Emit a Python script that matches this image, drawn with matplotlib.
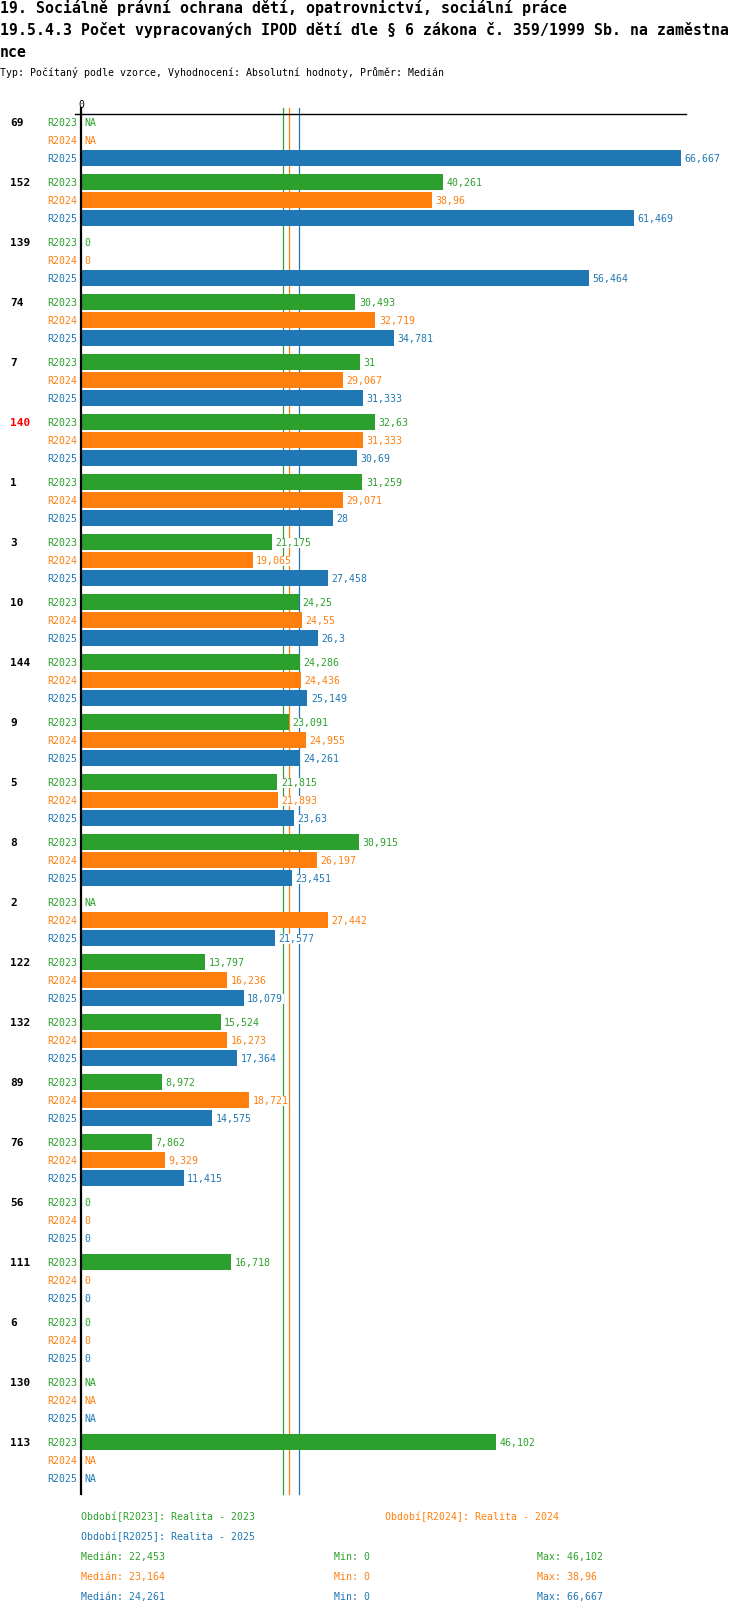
import numpy as np
import matplotlib
matplotlib.use("Agg")
import matplotlib.pyplot as plt

plt.rcParams['font.family'] = ['DejaVu Sans Mono', 'DejaVu Sans']

groups = ['69', '152', '139', '74', '7', '140', '1', '3', '10', '144', '9', '5',
          '8', '2', '122', '132', '89', '76', '56', '111', '6', '130', '113']
nan = np.nan
r2023 = [nan, 40.261, 0, 30.493, 31, 32.63, 31.259, 21.175, 24.25, 24.286, 23.091, 21.815,
         30.915, nan, 13.797, 15.524, 8.972, 7.862, 0, 16.718, 0, nan, 46.102]
r2024 = [nan, 38.96, 0, 32.719, 29.067, 31.333, 29.071, 19.065, 24.55, 24.436, 24.955, 21.893,
         26.197, 27.442, 16.236, 16.273, 18.721, 9.329, 0, 0, 0, nan, nan]
r2025 = [66.667, 61.469, 56.464, 34.781, 31.333, 30.69, 28, 27.458, 26.3, 25.149, 24.261, 23.63,
         23.451, 21.577, 18.079, 17.364, 14.575, 11.415, 0, 0, 0, nan, nan]
series = ['R2023', 'R2024', 'R2025']
colors = ['#2ca02c', '#ff7f0e', '#1f77b4']
medians = [22.453, 23.164, 24.261]
mins = [0, 0, 0]
maxs = [46.102, 38.96, 66.667]
legend_names = ['Období[R2023]: Realita - 2023', 'Období[R2024]: Realita - 2024',
                'Období[R2025]: Realita - 2025']
highlight = '140'

W, H = 750, 1614
X0 = 81        # pixel of zero
SCALE = 9.0    # pixels per unit
fig = plt.figure(figsize=(W / 100, H / 100), dpi=100)
ax = fig.add_axes([0, 0, 1, 1])
ax.set_xlim(-X0 / SCALE, (W - X0) / SCALE)
ax.set_ylim(H, 0)
ax.axis('off')

def ux(px):
    # pixel x -> data x
    return (px - X0) / SCALE

def fmt(v):
    return f'{v:g}'.replace('.', ',')

small = 7.1

# titles
ax.text(ux(0), 13, '19. Sociálně právní ochrana dětí, opatrovnictví, sociální práce',
        fontsize=10.7, fontweight='bold', va='baseline', ha='left')
ax.text(ux(0), 35, '19.5.4.3 Počet vypracovaných IPOD dětí dle § 6 zákona č. 359/1999 Sb. na zaměstna',
        fontsize=10.7, fontweight='bold', va='baseline', ha='left')
ax.text(ux(0), 57, 'nce', fontsize=10.7, fontweight='bold', va='baseline', ha='left')
ax.text(ux(0), 76, 'Typ: Počítaný podle vzorce, Vyhodnocení: Absolutní hodnoty, Průměr: Medián',
        fontsize=small, va='baseline', ha='left')

# axes lines
top, bottom = 114, 1494
ax.plot([ux(75), ux(686)], [top, top], color='black', lw=1.0, clip_on=False)
ax.plot([0, 0], [108, bottom], color='black', lw=1.6, clip_on=False, zorder=5)
ax.text(0, 108, '0', fontsize=small, ha='center', va='baseline')

# median lines behind the bars
for m, c in zip(medians, colors):
    ax.plot([m, m], [108, bottom], color=c, lw=0.9, zorder=1)

data = [r2023, r2024, r2025]
for g, name in enumerate(groups):
    base = 122 + g * 60
    ax.text(ux(10), base, name, fontsize=8, fontweight='bold', ha='left', va='center_baseline',
            color='#ff0000' if name == highlight else 'black')
    for k in range(3):
        y = base + k * 18
        v = data[k][g]
        c = colors[k]
        ax.text(ux(77), y, series[k], fontsize=small, color=c, ha='right', va='center_baseline')
        if np.isnan(v):
            lab = 'NA'
        else:
            ax.barh(y, v, height=16, color=c, zorder=2)
            lab = fmt(v)
        xv = (0 if np.isnan(v) else v) + 3.5 / SCALE
        ax.text(xv, y, lab, fontsize=small, color=c, ha='left', va='center_baseline', zorder=6,
                bbox=dict(facecolor='white', edgecolor='none', pad=0.3))

# legend and stats
ax.text(ux(81), 1516, legend_names[0], fontsize=small, color=colors[0], va='center_baseline')
ax.text(ux(385), 1516, legend_names[1], fontsize=small, color=colors[1], va='center_baseline')
ax.text(ux(81), 1536, legend_names[2], fontsize=small, color=colors[2], va='center_baseline')
for k in range(3):
    y = 1556 + k * 20
    ax.text(ux(81), y, 'Medián: ' + fmt(medians[k]), fontsize=small, color=colors[k], va='center_baseline')
    ax.text(ux(334), y, 'Min: ' + fmt(mins[k]), fontsize=small, color=colors[k], va='center_baseline')
    ax.text(ux(537), y, 'Max: ' + fmt(maxs[k]), fontsize=small, color=colors[k], va='center_baseline')

fig.savefig('out.png', dpi=100)
